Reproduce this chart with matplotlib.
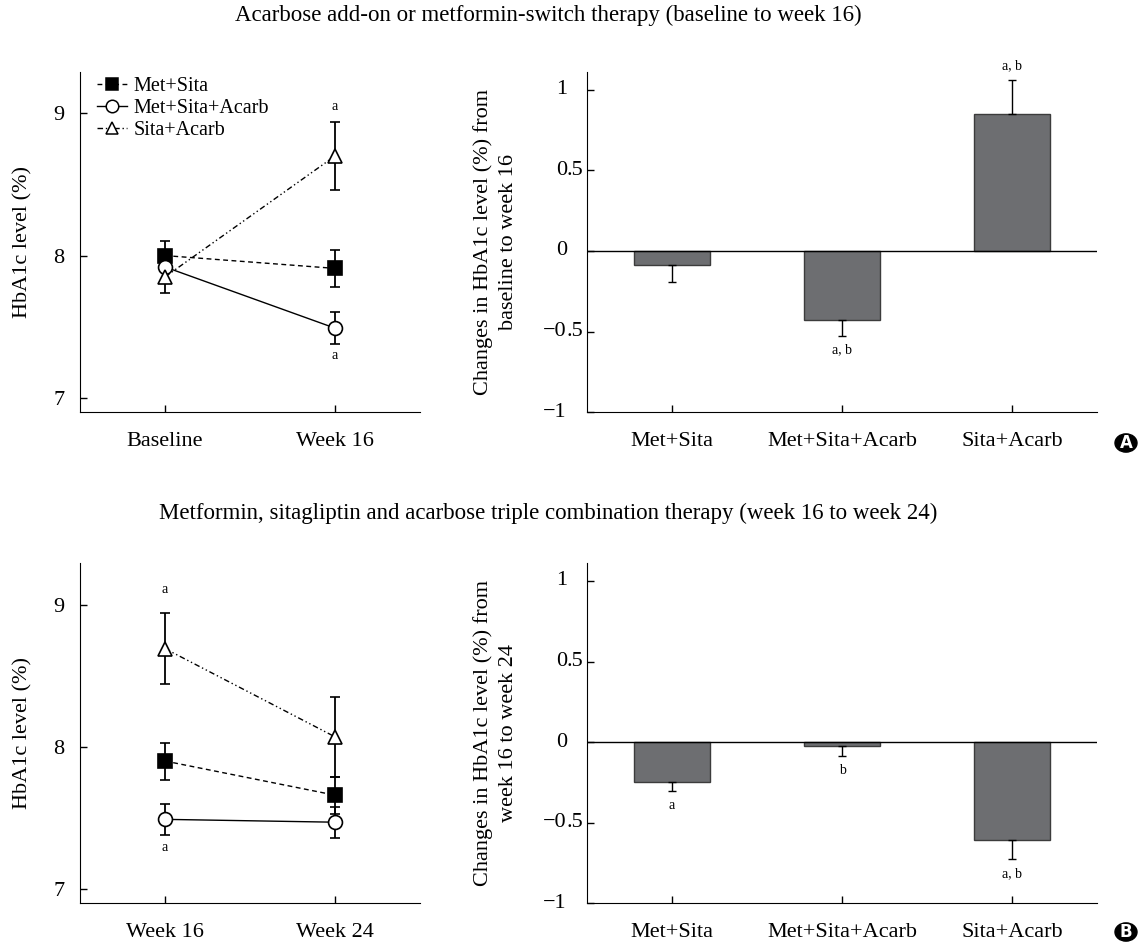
import matplotlib
matplotlib.use('Agg')
import matplotlib.pyplot as plt
from matplotlib.patches import Circle
from matplotlib.lines import Line2D
from matplotlib import transforms

plt.rcParams['font.family'] = ['Liberation Serif', 'DejaVu Serif']
plt.rcParams['axes.unicode_minus'] = True

# Data
groups = ['Met+Sita', 'Met+Sita+Acarb', 'Sita+Acarb']

# Panel A - HbA1c levels
a_times = ['Baseline', 'Week 16']
a_metsita = [8.00, 7.91]
a_metsita_err = [0.10, 0.13]
a_metsitaacarb = [7.92, 7.49]
a_metsitaacarb_err = [0.10, 0.11]
a_sitaacarb = [7.85, 8.70]
a_sitaacarb_err = [0.11, 0.24]

# Panel A - changes
a_change = [-0.09, -0.43, 0.85]
a_change_err = [0.10, 0.095, 0.21]
a_change_lab = ['', 'a, b', 'a, b']

# Panel B - HbA1c levels
b_times = ['Week 16', 'Week 24']
b_metsita = [7.90, 7.66]
b_metsita_err = [0.13, 0.13]
b_metsitaacarb = [7.49, 7.47]
b_metsitaacarb_err = [0.11, 0.11]
b_sitaacarb = [8.69, 8.07]
b_sitaacarb_err = [0.25, 0.28]

# Panel B - changes
b_change = [-0.25, -0.025, -0.607]
b_change_err = [0.055, 0.06, 0.12]
b_change_lab = ['a', 'b', 'a, b']

change_ticks = [-1, -0.5, 0, 0.5, 1]
change_ticklabels = ['\u22121', '\u22120.5', '0', '0.5', '1']

TICK_FS = 16
SMALL_FS = 10
BAR_COLOR = '#6d6e71'

fig = plt.figure(figsize=(11.38, 9.43), dpi=100)

styles = {
    'Met+Sita': dict(marker='s', ls=(0, (3.5, 2.5)), mfc='black'),
    'Met+Sita+Acarb': dict(marker='o', ls='-', mfc='white'),
    'Sita+Acarb': dict(marker='^', ls=(0, (4, 2, 1, 2, 1, 2)), mfc='white'),
}


def style_axes(ax):
    ax.spines['top'].set_visible(False)
    ax.spines['right'].set_visible(False)
    ax.tick_params(axis='both', direction='in', labelsize=TICK_FS, length=5, width=1, color='black')
    ax.tick_params(axis='x', pad=14)
    ax.tick_params(axis='y', pad=11)


def level_panel(ax, times, metsita, metsita_err, msa, msa_err, sa, sa_err, legend=False):
    x = list(range(len(times)))
    common = dict(color='black', lw=1, capsize=3.5, elinewidth=1.3, capthick=1.3,
                  markersize=10, markeredgewidth=1.2)
    for name, vals, errs in [('Met+Sita', metsita, metsita_err),
                             ('Met+Sita+Acarb', msa, msa_err),
                             ('Sita+Acarb', sa, sa_err)]:
        st = styles[name]
        ax.errorbar(x, vals, yerr=errs, fmt=st['marker'], ls=st['ls'],
                    markerfacecolor=st['mfc'], **common)
    ax.set_xlim(-0.5, 1.5)
    ax.set_ylim(6.9, 9.29)
    ax.set_xticks(x)
    ax.set_xticklabels(times)
    ax.set_yticks([7, 8, 9])
    ax.set_ylabel('HbA1c level (%)', fontsize=TICK_FS)
    ax.yaxis.set_label_coords(-0.141, 0.5)
    style_axes(ax)
    if legend:
        handles = [Line2D([], [], color='black', lw=1, ls=styles[n]['ls'], marker=styles[n]['marker'],
                          mfc=styles[n]['mfc'], mec='black', ms=9, mew=1.1) for n in groups]
        ax.legend(handles, groups, loc='upper left', frameon=False, fontsize=14.5, handlelength=1.5,
                  handletextpad=0.3, labelspacing=0.14, borderaxespad=0.0, borderpad=0.0,
                  bbox_to_anchor=(0.05, 0.985))


def change_panel(ax, values, errs, labels, ylabel):
    x = list(range(len(groups)))
    lower = [e if v < 0 else 0 for v, e in zip(values, errs)]
    upper = [e if v >= 0 else 0 for v, e in zip(values, errs)]
    ax.bar(x, values, width=0.45, color=BAR_COLOR, edgecolor='#3c3c3c', linewidth=1, zorder=2)
    ax.errorbar(x, values, yerr=[lower, upper], fmt='none', ecolor='black',
                elinewidth=1, capsize=3, capthick=1, zorder=3)
    ax.axhline(0, color='black', lw=1, zorder=4)
    for xi, v, e, lab in zip(x, values, errs, labels):
        if not lab:
            continue
        if v >= 0:
            ax.text(xi, v + e + 0.05, lab, ha='center', va='bottom', fontsize=SMALL_FS)
        else:
            ax.text(xi, v - e - 0.05, lab, ha='center', va='top', fontsize=SMALL_FS)
    ax.set_xlim(-0.5, 2.5)
    ax.set_ylim(-1, 1.11)
    ax.set_xticks(x)
    ax.set_xticklabels(groups)
    ax.set_yticks(change_ticks)
    ax.set_yticklabels([''] * len(change_ticks))
    # decimal-aligned tick labels
    base = transforms.blended_transform_factory(ax.transAxes, ax.transData)
    tr = transforms.offset_copy(base, fig=fig, x=-20, y=0, units='dots')
    for val, lab in zip(change_ticks, change_ticklabels):
        if '.' in lab:
            ip, fp = lab.split('.')
            ax.text(0, val, ip, transform=tr, ha='right', va='center', fontsize=TICK_FS)
            ax.text(0, val, '.' + fp, transform=tr, ha='left', va='center', fontsize=TICK_FS)
        else:
            ax.text(0, val, lab, transform=tr, ha='right', va='center', fontsize=TICK_FS)
    ax.set_ylabel(ylabel, fontsize=TICK_FS, linespacing=1.45)
    ax.yaxis.set_label_coords(-0.135, 0.5)
    style_axes(ax)


LEFT_X, LEFT_W = 80 / 1138, 340 / 1138
RIGHT_X, RIGHT_W = 587 / 1138, 510 / 1138
ROW_H = 0.3606

# Panel A
axA1 = fig.add_axes([LEFT_X, 0.563, LEFT_W, ROW_H])
level_panel(axA1, a_times, a_metsita, a_metsita_err, a_metsitaacarb, a_metsitaacarb_err,
            a_sitaacarb, a_sitaacarb_err, legend=True)
axA1.text(1, a_sitaacarb[1] + a_sitaacarb_err[1] + 0.06, 'a', ha='center', va='bottom', fontsize=SMALL_FS)
axA1.text(1, a_metsitaacarb[1] - a_metsitaacarb_err[1] - 0.04, 'a', ha='center', va='top', fontsize=SMALL_FS)

axA2 = fig.add_axes([RIGHT_X, 0.563, RIGHT_W, ROW_H])
change_panel(axA2, a_change, a_change_err, a_change_lab,
             'Changes in HbA1c level (%) from\nbaseline to week 16')

# Panel B
axB1 = fig.add_axes([LEFT_X, 0.0421, LEFT_W, ROW_H])
level_panel(axB1, b_times, b_metsita, b_metsita_err, b_metsitaacarb, b_metsitaacarb_err,
            b_sitaacarb, b_sitaacarb_err)
axB1.text(0, b_sitaacarb[0] + b_sitaacarb_err[0] + 0.12, 'a', ha='center', va='bottom', fontsize=SMALL_FS)
axB1.text(0, b_metsitaacarb[0] - b_metsitaacarb_err[0] - 0.04, 'a', ha='center', va='top', fontsize=SMALL_FS)

axB2 = fig.add_axes([RIGHT_X, 0.0421, RIGHT_W, ROW_H])
change_panel(axB2, b_change, b_change_err, b_change_lab,
             'Changes in HbA1c level (%) from\nweek 16 to week 24')

# Titles
fig.text(0.482, 1 - 15 / 943, 'Acarbose add-on or metformin-switch therapy (baseline to week 16)',
         ha='center', va='center', fontsize=16.5)
fig.text(0.482, 1 - 513 / 943, 'Metformin, sitagliptin and acarbose triple combination therapy (week 16 to week 24)',
         ha='center', va='center', fontsize=16.5)

# Panel letters
for lab, ypix in [('A', 443), ('B', 932)]:
    cx, cy = 1126 / 1138, 1 - ypix / 943
    circ = Circle((cx, cy), 11 / 1138, transform=fig.transFigure, color='black')
    fig.patches.append(circ)
    fig.text(cx, cy, lab, ha='center', va='center', color='white', fontsize=12,
             fontweight='bold', family='DejaVu Sans')

fig.savefig('out.png', dpi=100)
